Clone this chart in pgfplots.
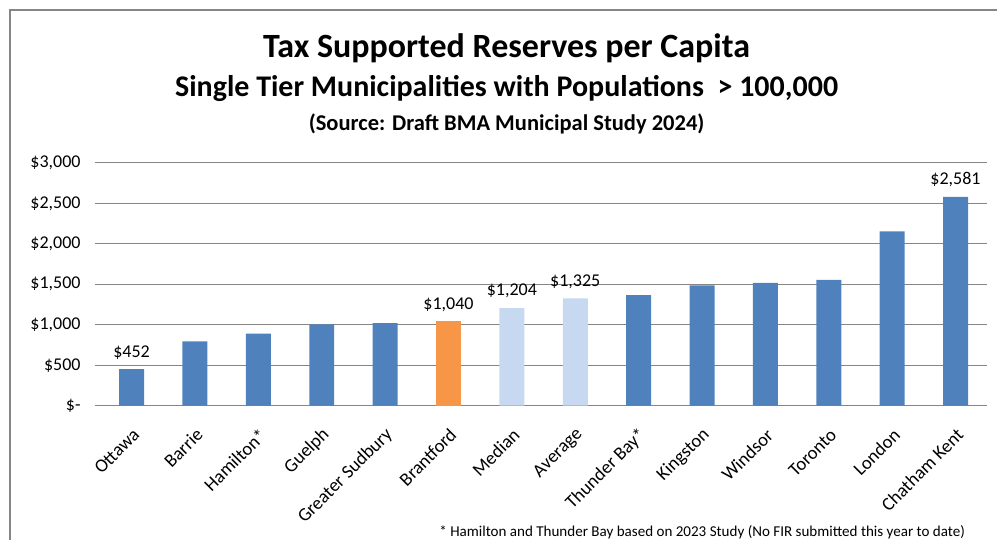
\documentclass[border=0pt]{standalone}
\usepackage{pgfplots}
\pgfplotsset{compat=1.18}
\usepackage{fontspec}
\setmainfont{Carlito}
\definecolor{barblue}{RGB}{79,129,189}
\definecolor{barorange}{RGB}{247,150,70}
\definecolor{barlight}{RGB}{198,217,241}
\definecolor{gridgray}{RGB}{134,134,134}
\begin{document}
\begin{tikzpicture}[x=1pt,y=1pt]
\begin{axis}[
  at={(75pt,100.5pt)}, anchor=south west,
  scale only axis, width=666pt, height=182.25pt,
  ybar, bar width=18.75pt, bar shift=0pt,
  xmin=-0.5, xmax=13.5, ymin=0, ymax=3000,
  ytick={0,500,1000,1500,2000,2500,3000},
  yticklabels={{\$-},{\$500},{\$1,000},{\$1,500},{\$2,000},{\$2,500},{\$3,000}},
  xtick={0,...,13},
  xticklabels={Ottawa,Barrie,Hamilton*,Guelph,Greater Sudbury,Brantford,Median,Average,Thunder Bay*,Kingston,Windsor,Toronto,London,Chatham Kent},
  x tick label style={rotate=45, anchor=east, font=\fontsize{14}{16}\selectfont, inner sep=0pt, yshift=-13.5pt, xshift=-8.5pt},
  y tick label style={font=\fontsize{13.5}{15}\selectfont, xshift=-7pt},
  major x tick style={draw=none},
  extra x ticks={-0.5,0.5,...,13.5},
  extra x tick labels={},
  extra x tick style={grid=none, major tick length=5pt, tick style={draw=gridgray, line width=0.9pt}},
  xtick pos=bottom, ytick pos=left,
  tick align=outside,
  major tick length=4pt,
  ytick style={draw=gridgray, line width=0.9pt},
  ymajorgrids, grid style={draw=gridgray, line width=0.9pt},
  axis x line*=bottom,
  axis y line*=left,
  y axis line style={draw=none},
  x axis line style={draw=gridgray, line width=0.9pt, -},
  clip=false,
  point meta=explicit symbolic,
  nodes near coords,
  every node near coord/.append style={font=\fontsize{13.5}{15}\selectfont, yshift=4pt},
]
\addplot[fill=barblue, draw=none] coordinates {
 (0,452) [\$452] (1,795) [] (2,890) [] (3,1005) [] (4,1020) []
 (8,1366) [] (9,1485) [] (10,1518) [] (11,1555) [] (12,2152) [] (13,2581) [\$2,581]};
\addplot[fill=barorange, draw=none] coordinates {(5,1040) [\$1,040]};
\addplot[fill=barlight, draw=none] coordinates {(6,1204) [\$1,204] (7,1325) [\$1,325]};
\end{axis}
\node[font=\bfseries\fontsize{25.5}{28}\selectfont, anchor=base] at (380.25pt,361.5pt) {Tax Supported Reserves per Capita};
\node[font=\bfseries\fontsize{22.5}{25}\selectfont, anchor=base] at (380.25pt,332.25pt) {Single Tier Municipalities with Populations~ > 100,000};
\node[font=\bfseries\fontsize{16.9}{19}\selectfont, anchor=base] at (380.25pt,306.75pt) {(Source: Draft BMA Municipal Study 2024)};
\node[font=\fontsize{11.3}{13}\selectfont, anchor=base east, inner sep=0pt] at (724.5pt,2.25pt) {* Hamilton and Thunder Bay based on 2023 Study (No FIR submitted this year to date)};
\pgfresetboundingbox
\draw[gridgray, line width=1.2pt] (7.5pt,0pt) -- (7.5pt,397.5pt) -- (748.5pt,397.5pt);
\path (0,0) rectangle (748.5pt,405pt);
\end{tikzpicture}
\end{document}
